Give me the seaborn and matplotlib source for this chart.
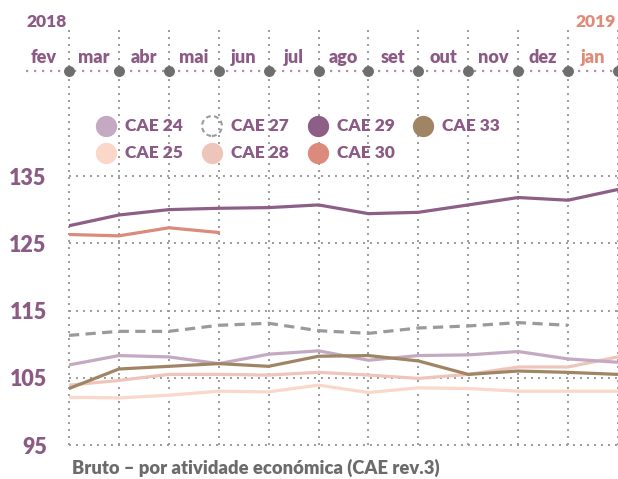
import numpy as np
import pandas as pd
import matplotlib
matplotlib.use("Agg")
import matplotlib.pyplot as plt
import seaborn as sns

months = ["fev", "mar", "abr", "mai", "jun", "jul", "ago", "set", "out", "nov", "dez", "jan"]
years = ["2018", "2019"]
yticks = [95, 105, 115, 125, 135]

cae24 = [106.9, 108.3, 108.1, 107.1, 108.5, 109.0, 107.6, 108.3, 108.4, 108.9, 107.8, 107.3]
cae25 = [102.1, 102.0, 102.4, 103.0, 102.9, 103.9, 102.8, 103.5, 103.4, 103.0, 103.0, 103.0]
cae27 = [111.3, 111.9, 111.9, 112.8, 113.1, 112.0, 111.6, 112.4, 112.7, 113.2, 112.8, np.nan]
cae28 = [103.9, 104.6, 105.5, 105.5, 105.4, 105.8, 105.4, 104.9, 105.5, 106.6, 106.6, 108.1]
cae29 = [127.6, 129.2, 130.0, 130.2, 130.3, 130.7, 129.4, 129.6, 130.7, 131.8, 131.4, 133.0]
cae30 = [126.3, 126.1, 127.3, 126.6, np.nan, np.nan, np.nan, np.nan, np.nan, np.nan, np.nan, np.nan]
cae33 = [103.4, 106.3, 106.7, 107.1, 106.7, 108.2, 108.3, 107.5, 105.5, 106.0, 105.8, 105.5]

series_names = ["CAE 24", "CAE 25", "CAE 27", "CAE 28", "CAE 29", "CAE 30", "CAE 33"]
series_vals = [cae24, cae25, cae27, cae28, cae29, cae30, cae33]

colors = {
    "CAE 24": "#C4A9C3",
    "CAE 25": "#FAD7C9",
    "CAE 27": "#9A9A9A",
    "CAE 28": "#EEC5BA",
    "CAE 29": "#8D5E86",
    "CAE 30": "#DB8A7B",
    "CAE 33": "#A08565",
}

rows = []
for name, vals in zip(series_names, series_vals):
    for i, v in enumerate(vals):
        rows.append({"serie": name, "idx": i, "valor": v})
df = pd.DataFrame(rows).dropna()

sns.set_theme(style="white")
plt.rcParams["font.family"] = ["Lato", "DejaVu Sans"]

PURPLE = "#8B5A85"
SALMON = "#E08A78"
GRID = "#9A9A9A"

fig = plt.figure(figsize=(6.18, 4.79), dpi=100)
ax = fig.add_axes([69 / 618, 1 - 445 / 479, 1 - 69 / 618, (445 - 27) / 479])

# draw order: light ones first
order = ["CAE 25", "CAE 28", "CAE 24", "CAE 27", "CAE 33", "CAE 30", "CAE 29"]
for name in order:
    sub = df[df["serie"] == name]
    sns.lineplot(data=sub, x="idx", y="valor", color=colors[name], ax=ax,
                 linewidth=2.3, legend=False,
                 linestyle="--" if name == "CAE 27" else "-",
                 dashes=False, zorder=3)
for l in ax.lines:
    if l.get_linestyle() == "--":
        l.set_dashes((3.2, 2.0))

ymax = 95 + (445 - 27) / 6.725
ax.set_xlim(0, 11)
ax.set_ylim(95, ymax)
ax.set_xticks(range(len(months)))
ax.set_xticklabels([])
ax.set_yticks(yticks)
ax.set_yticklabels([str(t) for t in yticks])
ax.tick_params(axis="y", length=0, pad=16, labelsize=15.5, labelcolor=PURPLE)
for t in ax.get_yticklabels():
    t.set_fontweight("heavy")
ax.tick_params(axis="x", length=0)
ax.set_xlabel("")
ax.set_ylabel("")
for s in ax.spines.values():
    s.set_visible(False)

# grid: horizontal within 95..135, vertical over full height
for y in yticks:
    ax.plot([0, 11], [y, y], color=GRID, linestyle=(0, (1, 2.6)), linewidth=1.4,
            zorder=1, clip_on=False)
for i in range(len(months)):
    ax.plot([i, i], [95, ymax], color=GRID, linestyle=(0, (1, 2.6)), linewidth=1.4,
            zorder=1, clip_on=False)

# top month row
yrow = 95 + (445 - 71) / 6.725
ax.plot([-0.86, 11], [yrow, yrow], color="#B58CAE", linestyle=(0, (1, 2.6)),
        linewidth=1.6, zorder=2, clip_on=False)
ax.scatter(range(len(months)), [yrow] * len(months), s=62, color="#6E6E6E",
           zorder=4, clip_on=False, linewidths=0)
ylab = 95 + (445 - 57) / 6.725
for i, m in enumerate(months):
    ax.text(i - 0.5, ylab, m, ha="center", va="center", fontsize=13,
            fontweight="heavy", color=SALMON if m == "jan" else PURPLE, clip_on=False)
yyear = 95 + (445 - 22) / 6.725
ax.text(-0.86, yyear, years[0], ha="left", va="center", fontsize=12.5,
        fontweight="heavy", color=PURPLE, clip_on=False)
ax.text(10.55, yyear, years[1], ha="center", va="center", fontsize=12.5,
        fontweight="heavy", color=SALMON, clip_on=False)

# legend (manual, figure pixel positions)
leg_cols = [106, 212, 318, 423]
leg_rows = [126, 153]
leg_items = [("CAE 24", 0, 0), ("CAE 25", 0, 1), ("CAE 27", 1, 0), ("CAE 28", 1, 1),
             ("CAE 29", 2, 0), ("CAE 30", 2, 1), ("CAE 33", 3, 0)]
for name, c, r in leg_items:
    x = leg_cols[c] / 618
    y = 1 - leg_rows[r] / 479
    if name == "CAE 27":
        ax.scatter([x], [y], s=205, facecolors="none", edgecolors="#9A9A9A",
                   linewidths=1.5, linestyles=(0, (2.3, 1.6)),
                   transform=fig.transFigure, clip_on=False, zorder=5)
    else:
        ax.scatter([x], [y], s=235, color=colors[name], linewidths=0,
                   transform=fig.transFigure, clip_on=False, zorder=5)
    fig.text(x + 19 / 618, y, name, ha="left", va="center", fontsize=12.5,
             fontweight="heavy", color=PURPLE)

fig.text(72 / 618, 1 - 468 / 479, "Bruto – por atividade económica (CAE rev.3)",
         ha="left", va="center", fontsize=13.2, fontweight="heavy", color="#6B6B6B")

fig.savefig("out.png", dpi=100)
